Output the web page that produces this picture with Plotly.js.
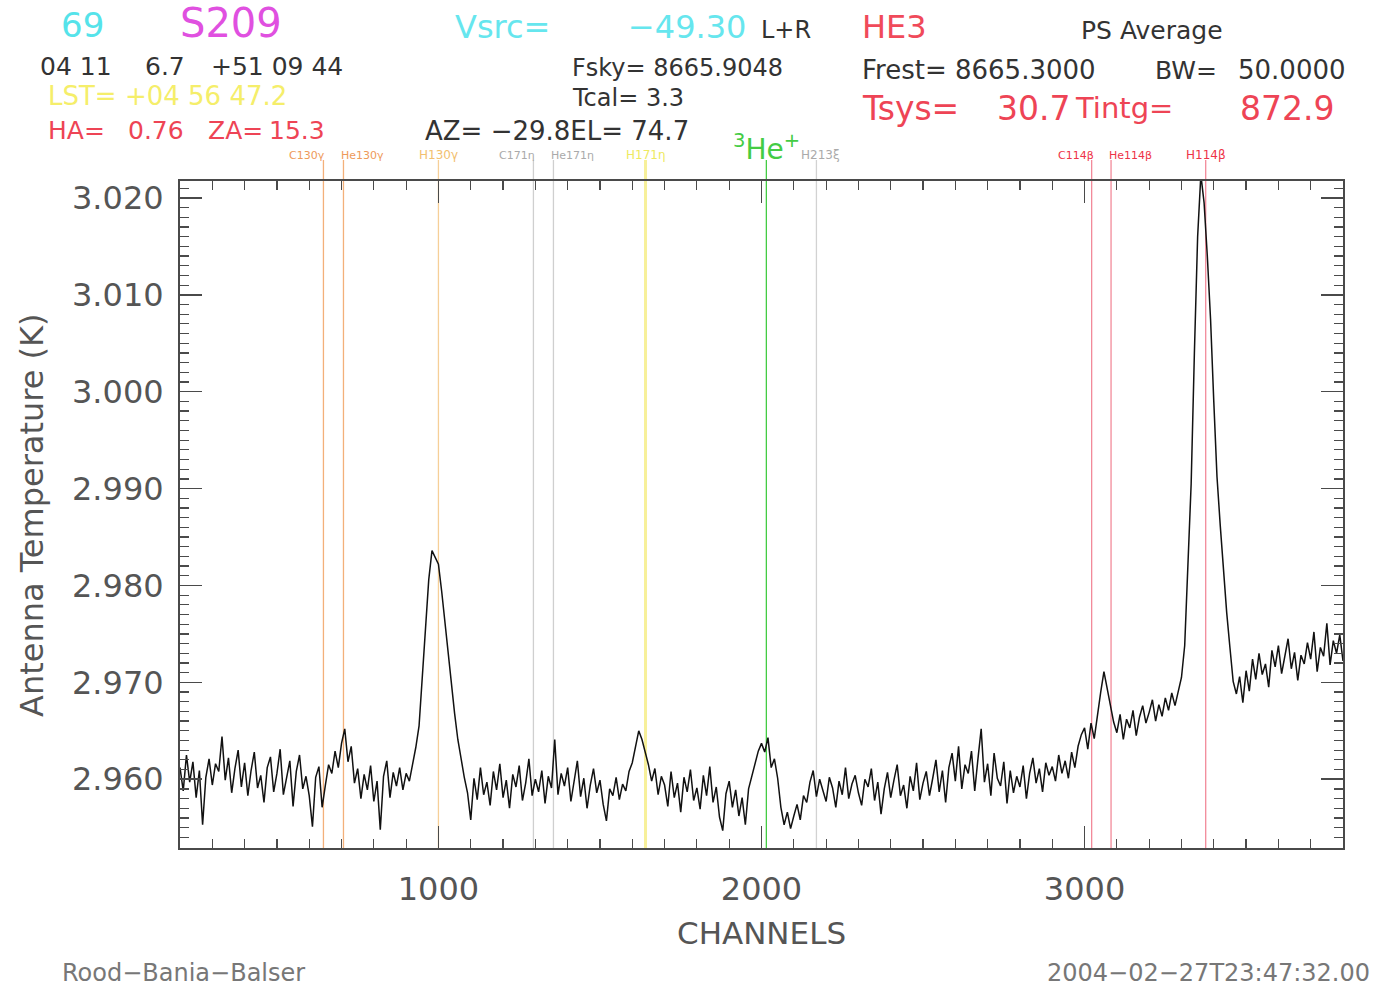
<!DOCTYPE html>
<html>
<head>
<meta charset="utf-8">
<script src="https://cdn.plot.ly/plotly-3.0.1.min.js"></script>
<style>html,body{margin:0;padding:0;background:#fff;}#chart{width:1383px;height:987px;}</style>
</head>
<body>
<div id="chart"></div>
<script>
// ---- data ----
const CH0 = 200;      // first channel
const CH_STEP = 10;   // channel spacing of samples
// Antenna temperature (K), one value per sample, channels 200..3800
const TA = [
 2.9612,2.9588,2.9625,2.9597,2.9618,2.9581,2.9609,2.9553,2.9602,2.9621,
 2.9594,2.9616,2.9608,2.9644,2.9599,2.9622,2.9586,2.9611,2.9630,2.9592,
 2.9617,2.9583,2.9609,2.9628,2.9591,2.9604,2.9576,2.9612,2.9623,2.9587,
 2.9606,2.9631,2.9584,2.9600,2.9619,2.9572,2.9608,2.9625,2.9590,2.9603,
 2.9583,2.9551,2.9602,2.9613,2.9571,2.9594,2.9615,2.9606,2.9629,2.9612,
 2.9637,2.9652,2.9618,2.9634,2.9596,2.9611,2.9580,2.9605,2.9589,2.9614,
 2.9577,2.9598,2.9548,2.9603,2.9619,2.9581,2.9607,2.9593,2.9612,2.9589,
 2.9606,2.9598,2.9614,2.9633,2.9655,2.9703,2.9758,2.9806,2.9836,2.9829,
 2.9822,2.9794,2.9763,2.9731,2.9694,2.9668,2.9641,2.9619,2.9602,2.9586,
 2.9558,2.9601,2.9579,2.9612,2.9584,2.9597,2.9573,2.9608,2.9589,2.9616,
 2.9581,2.9599,2.9570,2.9605,2.9592,2.9614,2.9578,2.9596,2.9621,2.9583,
 2.9600,2.9587,2.9609,2.9575,2.9603,2.9591,2.9641,2.9584,2.9606,2.9593,
 2.9612,2.9577,2.9598,2.9619,2.9582,2.9601,2.9570,2.9594,2.9611,2.9586,
 2.9599,2.9574,2.9557,2.9590,2.9583,2.9602,2.9579,2.9595,2.9588,2.9608,
 2.9617,2.9632,2.9650,2.9641,2.9628,2.9615,2.9598,2.9611,2.9584,2.9603,
 2.9594,2.9572,2.9608,2.9581,2.9596,2.9566,2.9602,2.9587,2.9610,2.9578,
 2.9591,2.9569,2.9604,2.9583,2.9613,2.9576,2.9592,2.9561,2.9547,2.9585,
 2.9598,2.9571,2.9589,2.9562,2.9581,2.9553,2.9590,2.9604,2.9618,2.9629,
 2.9637,2.9628,2.9643,2.9612,2.9621,2.9601,2.9571,2.9553,2.9566,2.9549,
 2.9562,2.9574,2.9558,2.9583,2.9576,2.9597,2.9609,2.9582,2.9600,2.9588,
 2.9577,2.9602,2.9591,2.9571,2.9598,2.9584,2.9612,2.9580,2.9595,2.9604,
 2.9586,2.9573,2.9600,2.9592,2.9611,2.9578,2.9597,2.9564,2.9590,2.9607,
 2.9581,2.9599,2.9615,2.9583,2.9594,2.9570,2.9603,2.9588,2.9617,2.9579,
 2.9596,2.9608,2.9583,2.9601,2.9620,2.9587,2.9609,2.9576,2.9612,2.9627,
 2.9598,2.9634,2.9590,2.9615,2.9606,2.9629,2.9588,2.9621,2.9652,2.9597,
 2.9616,2.9583,2.9627,2.9601,2.9593,2.9618,2.9575,2.9609,2.9586,2.9603,
 2.9592,2.9614,2.9580,2.9606,2.9622,2.9596,2.9611,2.9587,2.9617,2.9604,
 2.9613,2.9598,2.9625,2.9606,2.9619,2.9601,2.9628,2.9612,2.9634,2.9646,
 2.9653,2.9631,2.9658,2.9642,2.9667,2.9690,2.9711,2.9694,2.9676,2.9659,
 2.9648,2.9667,2.9641,2.9662,2.9653,2.9671,2.9645,2.9664,2.9676,2.9658,
 2.9669,2.9682,2.9660,2.9677,2.9665,2.9684,2.9671,2.9689,2.9676,2.9691,
 2.9705,2.9738,2.9822,2.9905,3.0040,3.0160,3.0224,3.0195,3.0140,3.0075,
 2.9990,2.9912,2.9862,2.9815,2.9772,2.9736,2.9701,2.9688,2.9706,2.9679,
 2.9712,2.9691,2.9724,2.9703,2.9730,2.9708,2.9719,2.9695,2.9733,2.9716,
 2.9738,2.9709,2.9726,2.9745,2.9714,2.9731,2.9702,2.9728,2.9719,2.9741,
 2.9724,2.9752,2.9711,2.9736,2.9727,2.9761,2.9718,2.9743,2.9730,2.9749,
 2.9722
];
// spectral line markers
const LINE_CH    = [644, 706, 1000, 1294, 1356, 1641, 2015, 2170, 3022, 3082, 3375];
const LINE_NAMES = ['C130γ','He130γ','H130γ','C171η','He171η','H171η','<sup>3</sup>He<sup>+</sup>','H213ξ','C114β','He114β','H114β'];
const X_TICKS = [1000, 2000, 3000];
const Y_TICKS = [2.960, 2.970, 2.980, 2.990, 3.000, 3.010, 3.020];

// ---- styles ----
const LINE_COLORS  = ['#f3b07a','#f3b07a','#f6cf98','#cfcfcf','#cfcfcf','#f7f09a','#44cc44','#d2d2d2','#f28a9a','#f28a9a','#f28a9a'];
const LABEL_COLORS = ['#ee9a5a','#ee9a5a','#f2c070','#aaaaaa','#aaaaaa','#eeea60','#44cc44','#aaaaaa','#ee3347','#ee3347','#ee3347'];
const LABEL_SIZES  = [11,11,12,11,11,12,28,12,11,11,12];
// label anchoring relative to its line: pairs of close lines get split left/right
const LABEL_ANCHOR = ['right','left','center','right','left','center','center','center','right','left','center'];
const LABEL_SHIFT  = [4,-4,0,4,-4,0,0,4,4,-4,0];
const FONT = 'DejaVu Sans, Noto Sans, sans-serif';
const AX = '#4a4a4a';

const L = 180, R = 1343, T = 181, B = 848;
const px2x = p => (p - L) / (R - L);
const py2y = p => (B - p) / (B - T);

function txt(text, px, py, size, color, anchor) {
  return {text: text, xref: 'paper', yref: 'paper', x: px2x(px), y: py2y(py),
          xanchor: anchor || 'left', yanchor: 'middle', showarrow: false,
          font: {family: FONT, size: size, color: color}};
}

const annotations = [
  txt('69', 59, 25, 34, '#55e3ea'),
  txt('S209', 178, 23, 40, '#e050e0'),
  txt('Vsrc=', 453, 27, 32, '#66e6ee'),
  txt('−49.30', 626, 27, 32, '#66e6ee'),
  txt('L+R', 759, 30, 24, '#333'),
  txt('HE3', 860, 27, 32, '#f04a5a'),
  txt('PS Average', 1079, 30, 25, '#333'),
  txt('04 11', 38, 66, 25, '#333'),
  txt('6.7', 143, 66, 25, '#333'),
  txt('+51 09 44', 209, 66, 25, '#333'),
  txt('LST= +04 56 47.2', 46, 96, 26, '#f5ee6a'),
  txt('HA=', 46, 131, 25, '#ee4455'),
  txt('0.76', 126, 131, 25, '#ee4455'),
  txt('ZA=', 206, 131, 25, '#ee4455'),
  txt('15.3', 267, 131, 25, '#ee4455'),
  txt('AZ= −29.8EL= 74.7', 423, 131, 26, '#333'),
  txt('Fsky= 8665.9048', 570, 68, 24, '#333'),
  txt('Tcal= 3.3', 570, 98, 24, '#333'),
  txt('Frest= 8665.3000', 860, 70, 26, '#333'),
  txt('BW=', 1153, 70, 25, '#333'),
  txt('50.0000', 1236, 70, 26, '#333'),
  txt('Tsys=', 860, 108, 33, '#ee4455'),
  txt('30.7', 995, 108, 33, '#ee4455'),
  txt('Tintg=', 1073, 108, 29, '#ee4455'),
  txt('872.9', 1238, 108, 33, '#ee4455'),
  txt('CHANNELS', 761, 933, 31, '#555', 'center'),
  txt('Rood−Bania−Balser', 60, 973, 24, '#777'),
  txt('2004−02−27T23:47:32.00', 1372, 973, 24, '#777', 'right'),
  Object.assign(txt('Antenna Temperature (K)', 32, 515, 32, '#555', 'center'), {textangle: -90})
];

const shapes = [];
LINE_CH.forEach((c, i) => {
  shapes.push({type: 'line', xref: 'x', yref: 'paper', x0: c, x1: c, y0: 0, y1: py2y(160),
               line: {color: LINE_COLORS[i], width: i === 5 ? 3 : 1.3}, layer: 'below'});
  annotations.push({text: LINE_NAMES[i], xref: 'x', yref: 'paper', x: c,
                    xshift: LABEL_SHIFT[i],
                    y: py2y(i === 6 ? 147 : 155), xanchor: LABEL_ANCHOR[i], yanchor: 'middle',
                    showarrow: false, font: {family: FONT, size: LABEL_SIZES[i], color: LABEL_COLORS[i]}});
});

const data = [{
  type: 'scatter', mode: 'lines', x0: CH0, dx: CH_STEP, y: TA,
  line: {color: '#111', width: 1.5}, hoverinfo: 'none'
}];

const axisCommon = {
  showline: true, linecolor: AX, linewidth: 2, mirror: 'allticks',
  ticks: 'inside', tickcolor: AX, tickwidth: 1.5, ticklen: 22,
  showgrid: false, zeroline: false,
  tickfont: {family: FONT, size: 32, color: '#555'}
};

const layout = {
  width: 1383, height: 987,
  margin: {l: L, r: 1383 - R, t: T, b: 987 - B, pad: 0},
  paper_bgcolor: '#fff', plot_bgcolor: '#fff',
  showlegend: false,
  xaxis: Object.assign({}, axisCommon, {
    range: [200, 3800], tickmode: 'array', tickvals: X_TICKS,
    ticklabelstandoff: 12,
    minor: {dtick: 100, tick0: 0, ticks: 'inside', ticklen: 9, tickcolor: AX, tickwidth: 1.2}
  }),
  yaxis: Object.assign({}, axisCommon, {
    range: [2.9529, 3.02175], tickmode: 'array', tickvals: Y_TICKS, tickformat: '.3f',
    ticklabelstandoff: 8,
    minor: {dtick: 0.001, tick0: 0, ticks: 'inside', ticklen: 9, tickcolor: AX, tickwidth: 1.2}
  }),
  shapes: shapes,
  annotations: annotations
};

Plotly.newPlot('chart', data, layout, {staticPlot: true, displayModeBar: false});
</script>
</body>
</html>
